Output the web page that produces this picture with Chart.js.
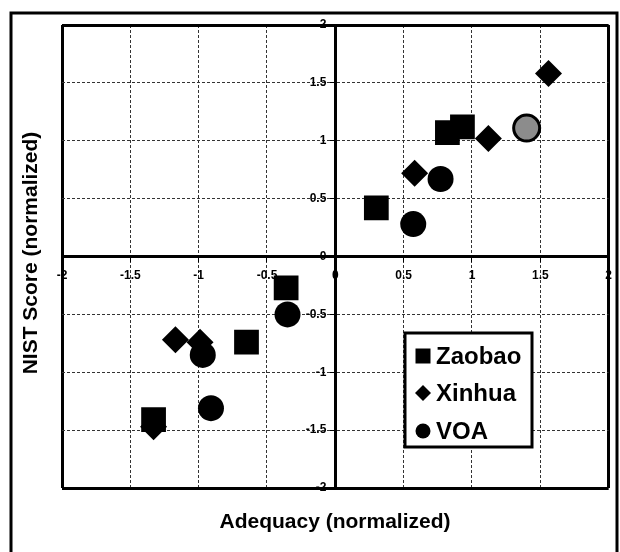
<!DOCTYPE html>
<html>
<head>
<meta charset="utf-8">
<script src="https://cdn.jsdelivr.net/npm/chart.js@4.4.1/dist/chart.umd.min.js"></script>
<style>
  html, body { margin: 0; padding: 0; background: #fff; }
  canvas { display: block; }
</style>
</head>
<body>
<canvas id="nistChart" width="620" height="552"></canvas>
<script>
'use strict'

//SERIES NAMES (legend order)
const seriesNames = ['Zaobao', 'Xinhua', 'VOA'];

//Zaobao points
const zaobaoX = [0.30, 0.82, 0.93, -0.36, -0.65, -1.33];
const zaobaoY = [0.42, 1.07, 1.12, -0.27, -0.74, -1.41];

//Xinhua points
const xinhuaX = [1.56, 1.12, 0.58, -1.17, -0.99, -1.33];
const xinhuaY = [1.58, 1.02, 0.72, -0.72, -0.74, -1.47];

//VOA points
const voaX = [1.40, 0.77, 0.57, -0.35, -0.97, -0.91];
const voaY = [1.11, 0.67, 0.28, -0.50, -0.85, -1.31];

//axis range + ticks
const axisMin = -2;
const axisMax = 2;
const axisStep = 0.5;
const xTitle = 'Adequacy (normalized)';
const yTitle = 'NIST Score (normalized)';

const FONT = '"Liberation Sans", Arial, sans-serif';

function toPoints(xs, ys){
  let pts = [];
  for (let i = 0; i < xs.length; i++) {
    pts.push({x: xs[i], y: ys[i]});
  }
  return pts;
}

//tick text: 2, 1.5, 1, 0.5 ...
function tickText(value){
  return String(value);
}

//grid helpers
function gridWidth(ctx){
  if (!ctx.tick) return 1;
  return Math.abs(ctx.tick.value) === axisMax ? 3 : 1;
}
function gridColor(ctx){
  if (!ctx.tick) return '#333';
  return Math.abs(ctx.tick.value) === axisMax ? '#000' : '#333';
}
function gridDash(ctx){
  if (!ctx.tick) return [];
  return Math.abs(ctx.tick.value) === axisMax || ctx.tick.value === 0 ? [] : [3, 2];
}

//frame, y tick labels, titles and legend
const framePlugin = {
  id: 'frame',
  beforeDraw(chart){
    const c = chart.ctx;
    c.save();
    c.fillStyle = '#fff';
    c.fillRect(0, 0, chart.width, chart.height);
    c.strokeStyle = '#000';
    c.lineWidth = 3;
    c.strokeRect(11, 13, 606, 560);
    c.restore();
  },
  afterDatasetsDraw(chart){
    //y tick labels sit left of the centre axis
    const c = chart.ctx;
    const yScale = chart.scales.y;
    const axisX = chart.scales.x.getPixelForValue(0);
    c.save();
    c.fillStyle = '#000';
    c.font = 'bold 12px ' + FONT;
    c.textAlign = 'right';
    c.textBaseline = 'middle';
    yScale.ticks.forEach(function(t){
      c.fillText(tickText(t.value), axisX - 9, yScale.getPixelForValue(t.value));
    });
    c.restore();
  },
  afterDraw(chart){
    const c = chart.ctx;
    c.save();
    c.fillStyle = '#000';
    c.font = 'bold 21px ' + FONT;
    c.textAlign = 'center';
    c.textBaseline = 'middle';
    c.fillText(xTitle, 335, 522);
    c.translate(31, 253);
    c.rotate(-Math.PI / 2);
    c.fillText(yTitle, 0, 0);
    c.restore();

    //legend box
    c.save();
    c.fillStyle = '#fff';
    c.fillRect(405, 333, 127, 114);
    c.strokeStyle = '#000';
    c.lineWidth = 3;
    c.strokeRect(405, 333, 127, 114);
    c.fillStyle = '#000';
    c.font = 'bold 24px ' + FONT;
    c.textAlign = 'left';
    c.textBaseline = 'middle';
    const rowY = [356, 393, 431];
    for (let i = 0; i < seriesNames.length; i++) {
      const cy = rowY[i];
      const cx = 423;
      c.beginPath();
      if (i === 0) {
        c.rect(cx - 7.5, cy - 7.5, 15, 15);
      } else if (i === 1) {
        c.moveTo(cx - 8, cy); c.lineTo(cx, cy - 8); c.lineTo(cx + 8, cy); c.lineTo(cx, cy + 8); c.closePath();
      } else {
        c.arc(cx, cy, 7.5, 0, Math.PI * 2);
      }
      c.fill();
      c.fillText(seriesNames[i], 436, cy + 1);
    }
    c.restore();
  }
};

const ctx = document.getElementById('nistChart').getContext('2d');
const nistChart = new Chart(ctx, {
  type: 'scatter',
  data: {
    datasets: [
      {
        label: seriesNames[0],
        data: toPoints(zaobaoX, zaobaoY),
        pointStyle: 'rect',
        pointRadius: 17.5,
        pointHoverRadius: 17.5,
        backgroundColor: '#000',
        borderColor: '#000',
        borderWidth: 0
      },
      {
        label: seriesNames[1],
        data: toPoints(xinhuaX, xinhuaY),
        pointStyle: 'rectRot',
        pointRadius: 13.5,
        pointHoverRadius: 13.5,
        backgroundColor: '#000',
        borderColor: '#000',
        borderWidth: 0
      },
      {
        label: seriesNames[2],
        data: toPoints(voaX, voaY),
        pointStyle: 'circle',
        pointRadius: 13,
        pointHoverRadius: 13,
        backgroundColor: function(c){ return c.dataIndex === 0 ? '#8c8c8c' : '#000'; },
        borderColor: '#000',
        borderWidth: function(c){ return c.dataIndex === 0 ? 3 : 0; }
      }
    ]
  },
  options: {
    responsive: false,
    animation: false,
    events: [],
    layout: { autoPadding: false, padding: { left: 62, right: 10, top: 25, bottom: 64 } },
    plugins: {
      legend: { display: false },
      tooltip: { enabled: false }
    },
    scales: {
      x: {
        type: 'linear',
        position: { y: 0 },
        min: axisMin,
        max: axisMax,
        ticks: {
          stepSize: axisStep,
          color: '#000',
          font: { family: FONT, size: 12, weight: 'bold' },
          padding: 8,
          maxRotation: 0,
          callback: tickText
        },
        grid: {
          color: gridColor,
          lineWidth: gridWidth,
          tickLength: 4,
          tickColor: '#000',
          tickWidth: 1
        },
        border: { display: true, color: '#000', width: 3, dash: gridDash }
      },
      y: {
        type: 'linear',
        position: { x: 0 },
        min: axisMin,
        max: axisMax,
        ticks: {
          stepSize: axisStep,
          display: false,
          callback: tickText
        },
        grid: {
          color: gridColor,
          lineWidth: gridWidth,
          tickLength: 4,
          tickColor: '#000',
          tickWidth: 1
        },
        border: { display: true, color: '#000', width: 3, dash: gridDash }
      }
    }
  },
  plugins: [framePlugin]
});
</script>
</body>
</html>
